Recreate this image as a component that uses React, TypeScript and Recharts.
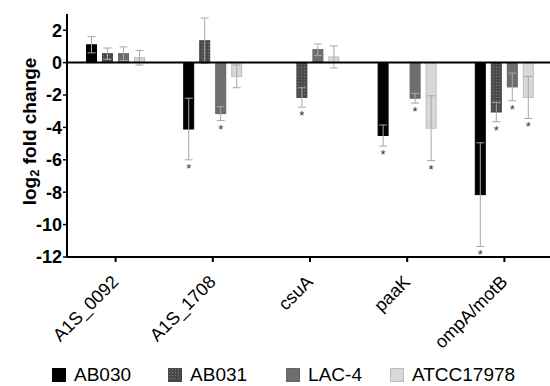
import React from 'react';
import { ComposedChart, Bar, XAxis, YAxis, ErrorBar, ReferenceLine, Legend } from 'recharts';

const categories = ['A1S_0092', 'A1S_1708', 'csuA', 'paaK', 'ompA/motB'];

const ab030 = [1.1, -4.1, 0, -4.5, -8.15];
const ab030Err = [0.5, 1.9, 0, 0.65, 3.2];
const ab030Sig = [false, true, false, true, true];

const ab031 = [0.55, 1.35, -2.15, 0, -3.05];
const ab031Err = [0.35, 1.4, 0.6, 0, 0.6];
const ab031Sig = [false, false, true, false, true];

const lac4 = [0.55, -3.15, 0.8, -2.2, -1.5];
const lac4Err = [0.42, 0.43, 0.35, 0.3, 0.85];
const lac4Sig = [false, true, false, true, true];

const atcc = [0.3, -0.85, 0.35, -4.05, -2.15];
const atccErr = [0.45, 0.7, 0.68, 2.0, 1.3];
const atccSig = [false, false, false, true, true];

const yTicks = [-12, -10, -8, -6, -4, -2, 0, 2];

const data = categories.map((c, i) => ({
  name: c,
  ab030: ab030[i], ab030Err: ab030Err[i], ab030Sig: ab030Sig[i],
  ab031: ab031[i], ab031Err: ab031Err[i], ab031Sig: ab031Sig[i],
  lac4: lac4[i], lac4Err: lac4Err[i], lac4Sig: lac4Sig[i],
  atcc: atcc[i], atccErr: atccErr[i], atccSig: atccSig[i],
}));

const FONT = '"Liberation Sans", Arial, Helvetica, sans-serif';

const series = [
  { key: 'ab030', name: 'AB030', fill: '#000000', stroke: '#000000' },
  { key: 'ab031', name: 'AB031', fill: 'url(#dots)', stroke: '#474747' },
  { key: 'lac4', name: 'LAC-4', fill: '#6e6e6e', stroke: '#666666' },
  { key: 'atcc', name: 'ATCC17978', fill: '#d8d8d8', stroke: '#bdbdbd' },
];

const makeShape = (key: string, fill: string, stroke: string) => (props: any) => {
  const { x, y, width, height, payload } = props;
  const top = Math.min(y, y + height);
  const bot = Math.max(y, y + height);
  const h = bot - top;
  const v = payload[key];
  const err = payload[key + 'Err'] || 0;
  const sig = payload[key + 'Sig'];
  let star = null;
  if (sig && v !== 0 && h > 0) {
    const ppu = h / Math.abs(v);
    const sy = v < 0 ? bot + err * ppu + 13 : top - err * ppu - 3;
    star = (
      <text x={x + width / 2} y={sy} textAnchor="middle" fontSize={13} fill="#333" fontFamily={FONT}
        style={{ WebkitFontSmoothing: 'antialiased' }}>*</text>
    );
  }
  return (
    <g>
      {h > 0 && <rect x={x + 0.5} y={top} width={width - 1} height={h} fill={fill} stroke={stroke} strokeWidth={1} />}
      {star}
    </g>
  );
};

const XTick = (props: any) => {
  const { x, y, payload } = props;
  return (
    <g transform={`translate(${x + 4},${y + 19})`}>
      <text x={0} y={0} textAnchor="end" transform="rotate(-45)" fontSize={18}
        fill="#000" fontFamily={FONT}>{payload.value}</text>
    </g>
  );
};

const YLabel = (props: any) => {
  const vb = props.viewBox || { x: 0, y: 14, width: 67, height: 243 };
  const cx = vb.x + 29;
  const cy = vb.y + vb.height / 2 - 4;
  return (
    <text transform={`translate(${cx},${cy}) rotate(-90)`} textAnchor="middle" dominantBaseline="central"
      fontSize={19} fontWeight="bold" fill="#000" fontFamily={FONT}>
      log<tspan fontSize={13} dy={5}>2</tspan><tspan dy={-5}> fold change</tspan>
    </text>
  );
};

const Swatch = ({ fill, stroke }: { fill: string; stroke: string }) => (
  <svg width={14} height={14} style={{ display: 'block' }}>
    <defs>
      <pattern id="dotsL" width="3" height="3" patternUnits="userSpaceOnUse">
        <rect width="3" height="3" fill="#4a4a4a" />
        <rect x="1" y="1" width="1" height="1" fill="#7a7a7a" />
      </pattern>
    </defs>
    <rect x={0.5} y={0.5} width={13} height={13} fill={fill === 'url(#dots)' ? 'url(#dotsL)' : fill} stroke={stroke} />
  </svg>
);

const LegendContent = () => {
  const gaps = [37, 39, 28, 0];
  return (
    <div style={{ display: 'flex', alignItems: 'center', paddingLeft: 52, paddingTop: 23, fontFamily: FONT, fontSize: 19, color: '#000' }}>
      {series.map((s, i) => (
        <div key={s.key} style={{ display: 'flex', alignItems: 'center', marginRight: gaps[i] }}>
          <Swatch fill={s.fill} stroke={s.stroke} />
          <span style={{ marginLeft: 8, lineHeight: '20px' }}>{s.name}</span>
        </div>
      ))}
    </div>
  );
};

export default function App() {
  return (
    <div style={{ position: 'absolute', left: 0, top: 0, width: 550, height: 386, overflow: 'hidden', background: '#fff' }}>
      <ComposedChart width={560} height={386} data={data} margin={{ top: 14, right: 7, bottom: 0, left: 0 }}
        barSize={11} barGap={5}>
        <defs>
          <pattern id="dots" width="3" height="3" patternUnits="userSpaceOnUse">
            <rect width="3" height="3" fill="#4a4a4a" />
            <rect x="1" y="1" width="1" height="1" fill="#7a7a7a" />
          </pattern>
        </defs>
        <XAxis dataKey="name" height={85} tick={<XTick />} interval={0}
          axisLine={{ stroke: '#000', strokeWidth: 2 }} tickLine={{ stroke: '#000', strokeWidth: 2 }} tickSize={5} />
        <YAxis width={67} domain={[-12, 3]} ticks={yTicks} allowDataOverflow
          axisLine={{ stroke: '#000', strokeWidth: 2 }} tickLine={{ stroke: '#000', strokeWidth: 1.5 }} tickSize={4} tickMargin={1}
          tick={{ fill: '#000', fontSize: 18, fontWeight: 'bold', fontFamily: FONT }}
          label={<YLabel />} />
        <Legend verticalAlign="bottom" content={<LegendContent />}
          wrapperStyle={{ left: 0, width: 550, height: 44 }} />
        {series.map((s) => (
          <Bar key={s.key} dataKey={s.key} name={s.name} fill={s.fill} isAnimationActive={false}
            shape={makeShape(s.key, s.fill, s.stroke)}>
            <ErrorBar dataKey={s.key + 'Err'} stroke="#a8a8a8" strokeWidth={1} width={4} />
          </Bar>
        ))}
        <ReferenceLine y={0} stroke="#000" strokeWidth={2} />
      </ComposedChart>
    </div>
  );
}
